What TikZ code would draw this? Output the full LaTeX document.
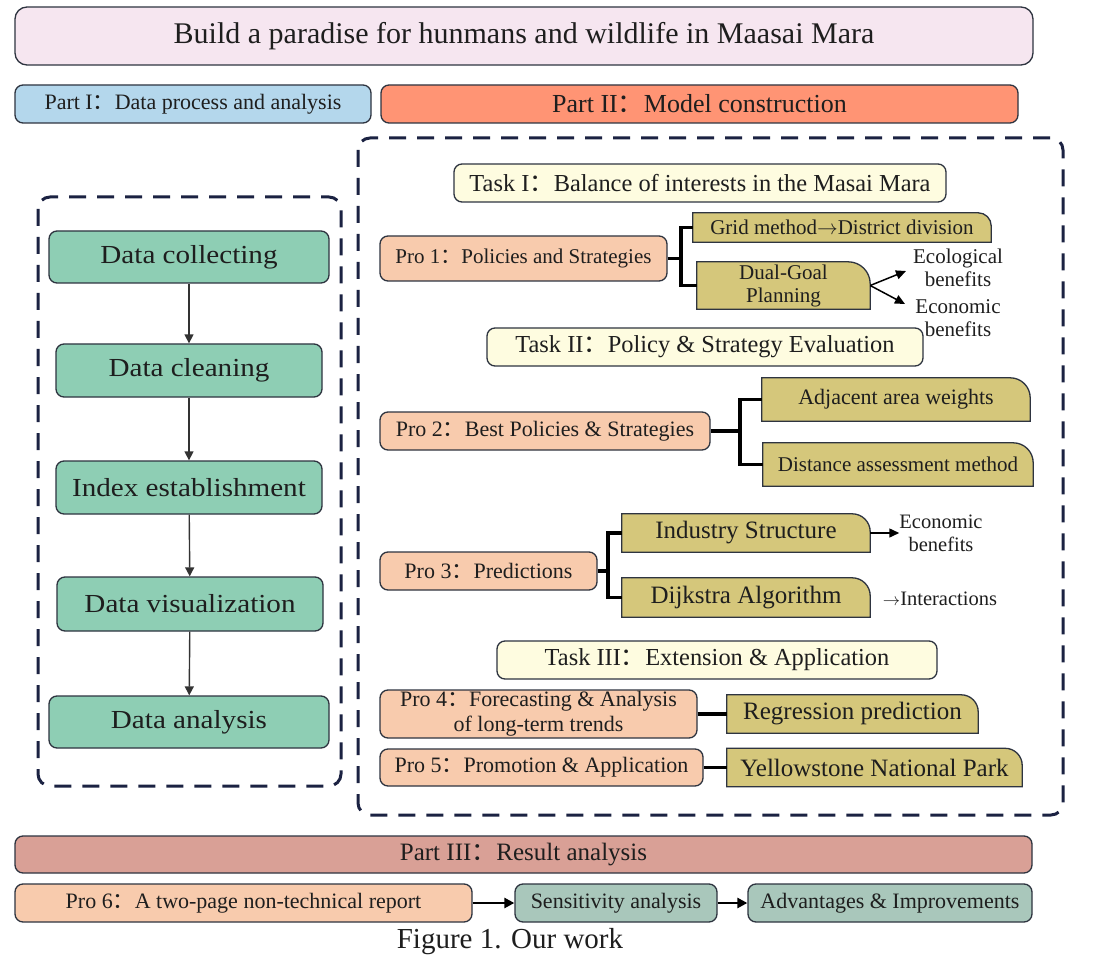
\documentclass[tikz,border=0pt]{standalone}
\usepackage{fontspec}
\setmainfont{Liberation Serif}
\newfontfamily\cjkfont{Noto Sans CJK SC}
\newfontfamily\widefont[FakeStretch=1.12]{Liberation Serif}
\newcommand\fwc{{\cjkfont ：}}
\usetikzlibrary{arrows.meta,calc,backgrounds}
\definecolor{bordc}{HTML}{2E3440}
\definecolor{txtc}{HTML}{1E1E1E}
\definecolor{navyc}{HTML}{1B2242}
\definecolor{titlec}{HTML}{F6E6F0}
\definecolor{partIc}{HTML}{B4D7EC}
\definecolor{partIIc}{HTML}{FF9474}
\definecolor{partIIIc}{HTML}{D9A096}
\definecolor{taskc}{HTML}{FEFCE0}
\definecolor{proc}{HTML}{F8CBAD}
\definecolor{olivec}{HTML}{D5C77B}
\definecolor{tealc}{HTML}{8ECEB4}
\definecolor{greytealc}{HTML}{A9C7BB}
\tikzset{
  box/.style={draw=bordc, line width=1.3pt, rounded corners=8pt, inner sep=0pt, text=txtc, align=center},
  olivebox/.style={inner sep=0pt, text=txtc, align=center},
  olivedraw/.style={draw=bordc, line width=1.3pt, fill=olivec},
  dashbox/.style={draw=navyc, line width=3pt, dash pattern=on 17pt off 11pt, rounded corners=12pt},
  conn/.style={line width=3.2pt, draw=black},
  flow/.style={draw=black!80, line width=1.4pt, -{Triangle[length=9pt,width=9pt]}},
  bigarrow/.style={draw=black, line width=2.5pt, -{Triangle[length=10pt,width=10pt]}},
  smallarrow/.style={draw=black, line width=1.5pt, -{Triangle[length=10pt,width=9pt]}},
  lbl/.style={text=txtc, align=center, inner sep=0pt},
  f30/.style={font=\fontsize{30}{34}\selectfont},
  f26/.style={font=\fontsize{26}{29}\selectfont},
  f25/.style={font=\fontsize{25}{28}\selectfont},
  f24/.style={font=\fontsize{24.4}{27}\selectfont},
  f22/.style={font=\fontsize{22}{25}\selectfont},
  f21/.style={font=\fontsize{21}{23}\selectfont},
  f20/.style={font=\fontsize{20.5}{23}\selectfont},
  wide/.style={font=\widefont\fontsize{26}{29}\selectfont},
}
\begin{document}
\begin{tikzpicture}[x=1pt,y=1pt]
\begin{scope}[on background layer]
\fill[white] (0,0) rectangle (1096,-960);
\end{scope}
\useasboundingbox (0,0) rectangle (1096,-960);

% top
\node[box, fill=titlec, f30, minimum width=1018, minimum height=58, rounded corners=12pt] (title) at (524,-36) {Build a paradise for hunmans and wildlife in Maasai Mara};
\node[box, fill=partIc, f22, minimum width=356, minimum height=38] (partI) at (193,-104) {Part I\fwc Data process and analysis};
\node[box, fill=partIIc, f26, minimum width=637, minimum height=38] (partII) at (699.5,-104) {Part II\fwc Model construction};

% dashed frames
\draw[dashbox] (38,-197) rectangle (341,-786);
\draw[dashbox] (358,-138) rectangle (1063,-815);

% left flow
\node[box, fill=tealc, wide, minimum width=280, minimum height=52] (dc) at (189,-257) {Data collecting};
\node[box, fill=tealc, wide, minimum width=266, minimum height=53] (dcl) at (189,-370.5) {Data cleaning};
\node[box, fill=tealc, wide, minimum width=266, minimum height=53] (ie) at (189,-487.5) {Index establishment};
\node[box, fill=tealc, wide, minimum width=266, minimum height=54] (dv) at (190,-604) {Data visualization};
\node[box, fill=tealc, wide, minimum width=280, minimum height=52] (da) at (189,-722) {Data analysis};
\draw[flow] (dc) -- (dcl);
\draw[flow] (dcl) -- (ie);
\draw[flow] (ie) -- (dv);
\draw[flow] (dv) -- (da);

% Task I
\node[box, fill=taskc, f24, minimum width=492, minimum height=38] (taskI) at (700,-183) {Task I\fwc Balance of interests in the Masai Mara};
\node[box, fill=proc, f21, minimum width=287, minimum height=45] (pro1) at (523.5,-258.5) {Pro 1\fwc Policies and Strategies};
\node[olivebox, f21, minimum width=298, minimum height=29] (grid) at (842,-227.5) {Grid method$\rightarrow$District division};
\node[olivebox, f21, minimum width=173, minimum height=47] (dual) at (783.5,-285.5) {Dual-Goal\\Planning};
\node[lbl, f21] (eco1) at (958,-268) {Ecological\\benefits};
\node[lbl, f21] (eco2) at (958,-318) {Economic\\benefits};
\coordinate (j1) at (681,-258.5);
\coordinate (a1) at (906,-271);
\coordinate (a2) at (905,-304);
\draw[conn] (pro1.east) -- (j1);
\draw[conn] (j1) |- (grid.west);
\draw[conn] (j1) |- (dual.west);
\draw[smallarrow] (dual.east) -- (a1);
\draw[smallarrow] (dual.east) -- (a2);

% Task II
\node[box, fill=taskc, f24, minimum width=436, minimum height=38] (taskII) at (705,-347) {Task II\fwc Policy \& Strategy Evaluation};
\node[box, fill=proc, f22, minimum width=330, minimum height=38] (pro2) at (545,-431) {Pro 2\fwc Best Policies \& Strategies};
\node[olivebox, f22, minimum width=268, minimum height=43] (adj) at (896,-399.5) {Adjacent area weights};
\node[olivebox, f21, minimum width=270, minimum height=43] (dist) at (898,-464.5) {Distance assessment method};
\coordinate (j2) at (740,-431);
\draw[conn] (pro2.east) -- (j2);
\draw[conn] (j2) |- (adj.west);
\draw[conn] (j2) |- (dist.west);

% Pro 3
\node[box, fill=proc, f22, minimum width=217, minimum height=38] (pro3) at (488.5,-571) {Pro 3\fwc Predictions};
\node[olivebox, f25, minimum width=248, minimum height=38] (ind) at (746,-533) {Industry Structure};
\node[olivebox, f25, minimum width=248, minimum height=39] (dij) at (746,-597.5) {Dijkstra Algorithm};
\node[lbl, f20] (eco3) at (941,-533) {Economic\\benefits};
\node[lbl, f20] (inter) at (940,-599) {{\fontsize{16}{18}\selectfont$\rightarrow$}Interactions};
\coordinate (j3) at (608,-571);
\draw[conn] (pro3.east) -- (j3);
\draw[conn] (j3) |- (ind.west);
\draw[conn] (j3) |- (dij.west);
\draw[smallarrow] (ind.east) -- (eco3.west);

% Task III
\node[box, fill=taskc, f24, minimum width=440, minimum height=38] (taskIII) at (717,-660) {Task III\fwc Extension \& Application};
\node[box, fill=proc, f22, minimum width=317, minimum height=48] (pro4) at (538.5,-714) {Pro 4\fwc Forecasting \& Analysis\\[0pt]of long-term trends};
\node[olivebox, f25, minimum width=251, minimum height=38] (reg) at (852.5,-714) {Regression prediction};
\node[box, fill=proc, f22, minimum width=323, minimum height=37] (pro5) at (541.5,-767.5) {Pro 5\fwc Promotion \& Application};
\node[olivebox, f25, minimum width=295, minimum height=38] (yel) at (874.5,-767.5) {Yellowstone National Park};
\draw[conn] (pro4.east) -- (reg.west);
\draw[conn] (pro5.east) -- (yel.west);

% olive shapes
\begin{scope}[on background layer]
\foreach \n/\r in {grid/13, dual/22, adj/20, dist/20, ind/18, dij/18, reg/17, yel/17}
  \draw[olivedraw] (\n.south west) -- (\n.north west) -- ($(\n.north east)+(-\r,0)$) arc[start angle=90,end angle=0,radius=\r] -- (\n.south east) -- cycle;
\end{scope}

% Part III
\node[box, fill=partIIIc, f25, minimum width=1017, minimum height=37] (partIII) at (523.5,-854.5) {Part III\fwc Result analysis};
\node[box, fill=proc, f22, minimum width=457, minimum height=38] (pro6) at (243.5,-903) {Pro 6\fwc A two-page non-technical report};
\node[box, fill=greytealc, f22, minimum width=202, minimum height=38] (sens) at (616,-903) {Sensitivity analysis};
\node[box, fill=greytealc, f22, minimum width=284, minimum height=38] (adv) at (890,-903) {Advantages \& Improvements};
\draw[bigarrow] (pro6.east) -- (sens.west);
\draw[bigarrow] (sens.east) -- (adv.west);

\node[lbl, font=\fontsize{29}{32}\selectfont] (cap) at (510,-942) {Figure 1. Our work};
\end{tikzpicture}
\end{document}
